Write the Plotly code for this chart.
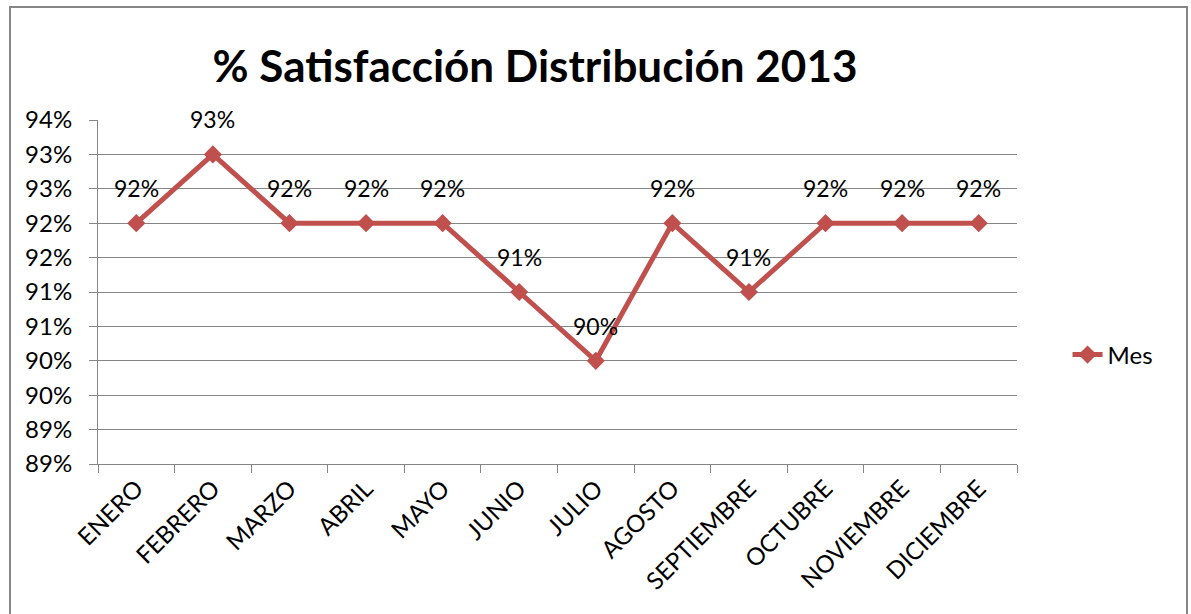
import plotly.graph_objects as go

# Monthly satisfaction values (percent)
meses = ["ENERO", "FEBRERO", "MARZO", "ABRIL", "MAYO", "JUNIO", "JULIO",
         "AGOSTO", "SEPTIEMBRE", "OCTUBRE", "NOVIEMBRE", "DICIEMBRE"]
satisfaccion = [92, 93, 92, 92, 92, 91, 90, 92, 91, 92, 92, 92]

# Y axis ticks every half point, labelled rounded to whole percent
y_ticks = [88.5, 89.0, 89.5, 90.0, 90.5, 91.0, 91.5, 92.0, 92.5, 93.0, 93.5]
y_tick_labels = ["89%", "89%", "90%", "90%", "91%", "91%", "92%", "92%", "93%", "93%", "94%"]

RED = "#C0504D"
GRID = "#868686"
FONT = "Lato, Carlito, Calibri, sans-serif"

fig = go.Figure()
fig.add_trace(go.Scatter(
    x=meses, y=satisfaccion, name="Mes", mode="lines+markers",
    line=dict(color=RED, width=5),
    marker=dict(symbol="diamond", size=14, color=RED),
))

# Value labels above each point
annotations = [
    dict(x=m, y=v, xref="x", yref="y", text=f"{v:.0f}%", showarrow=False,
         yshift=35, font=dict(size=23, color="black", family=FONT))
    for m, v in zip(meses, satisfaccion)
]

fig.update_layout(
    width=1191, height=614,
    margin=dict(l=98, r=174, t=120, b=150),
    paper_bgcolor="white", plot_bgcolor="white",
    font=dict(family=FONT, color="black"),
    title=dict(text="<b>% Satisfacción Distribución 2013</b>",
               x=535 / 1191, xanchor="center", y=1 - 67 / 614, yanchor="middle",
               font=dict(size=44, color="black", family=FONT)),
    showlegend=True,
    legend=dict(x=1.055, xanchor="left", y=0.317, yanchor="middle",
                font=dict(size=24, color="black", family=FONT),
                bgcolor="rgba(0,0,0,0)"),
    annotations=annotations,
    shapes=[dict(type="rect", xref="paper", yref="paper",
                 x0=(10 - 98) / 919, x1=(1187 - 98) / 919,
                 y0=-(640 - 464) / 344, y1=1 + (120 - 7) / 344,
                 line=dict(color=GRID, width=2), layer="below")],
)

fig.update_xaxes(
    type="category", range=[-0.5, len(meses) - 0.5],
    showgrid=False, showline=True, linecolor=GRID, linewidth=1,
    ticks="outside", tickson="boundaries", ticklen=8, tickcolor=GRID,
    tickangle=-45, tickfont=dict(size=24, color="black", family=FONT),
)
fig.update_yaxes(
    range=[88.5, 93.5], tickmode="array", tickvals=y_ticks, ticktext=y_tick_labels,
    showgrid=True, gridcolor=GRID, gridwidth=1,
    showline=True, linecolor=GRID, linewidth=1,
    ticks="outside", ticklen=8, tickcolor=GRID,
    tickfont=dict(size=24, color="black", family=FONT), ticklabelstandoff=12,
    zeroline=False,
)

fig.write_html("out.html")
